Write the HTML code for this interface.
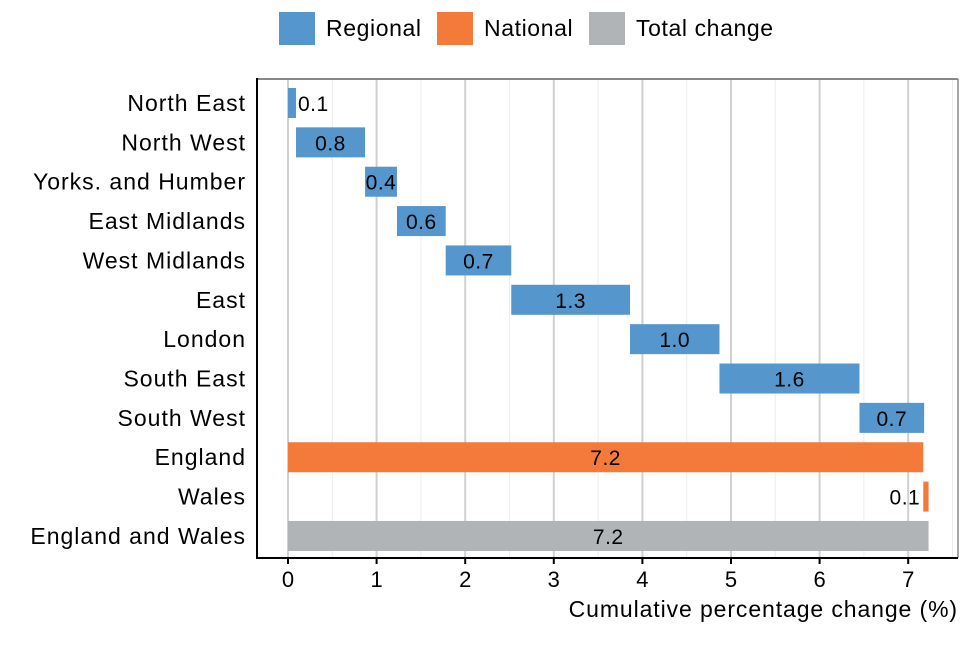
<!DOCTYPE html>
<html><head><meta charset="utf-8"><style>
body{margin:0;background:#fff;font-family:"Liberation Sans",sans-serif}
svg text{font-family:"Liberation Sans",sans-serif}
</style></head><body>
<svg id="c" width="960" height="640" xmlns="http://www.w3.org/2000/svg">
<g font-size="23" letter-spacing="0.6">
<rect x="279" y="12" width="36" height="33" fill="#5596cc"/>
<text x="326" y="36">Regional</text>
<rect x="437" y="12" width="36" height="33" fill="#f47a3a"/>
<text x="484" y="36">National</text>
<rect x="589" y="12" width="36" height="33" fill="#b1b4b7"/>
<text x="636" y="36">Total change</text>
</g>
<g id="grid"></g><g id="bars"></g><g id="axes"></g>
<text x="958" y="617" font-size="23" letter-spacing="0.9" text-anchor="end">Cumulative percentage change (%)</text>
</svg>
<script>
const categories=["North East","North West","Yorks. and Humber","East Midlands","West Midlands","East","London","South East","South West","England","Wales","England and Wales"];
const values=[0.09,0.78,0.36,0.55,0.74,1.34,1.01,1.58,0.73,7.17,0.06,7.23];
const types=["Regional","Regional","Regional","Regional","Regional","Regional","Regional","Regional","Regional","National","National","Total"];
const labels=["0.1","0.8","0.4","0.6","0.7","1.3","1.0","1.6","0.7","7.2","0.1","7.2"];
const xTicks=[0,1,2,3,4,5,6,7];
const NS="http://www.w3.org/2000/svg";
const L=257,R=958,T=79,B=558;
const x=v=>288+v*88.6;
const y=i=>103+i*39.36;
const col={Regional:"#5596cc",National:"#f47a3a",Total:"#b1b4b7"};
function mk(p,tag,a){const e=document.createElementNS(NS,tag);for(const k in a)e.setAttribute(k,a[k]);p.appendChild(e);return e;}
const g=document.getElementById('grid'),bg=document.getElementById('bars'),ax=document.getElementById('axes');
for(let v=0;v<=7.5;v+=0.5){const ln=mk(g,'line',{x1:x(v),x2:x(v),y1:T,y2:B,stroke:Number.isInteger(v)?"#d0d0d0":"#ececec","stroke-width":Number.isInteger(v)?2:1});

}
let cum=0;
categories.forEach((c,i)=>{
 let s,e;
 if(types[i]==="Regional"){s=cum;e=cum+values[i];cum=e;}
 else if(types[i]==="National"&&c==="England"){s=0;e=values[i];cum=e;}
 else if(types[i]==="National"){s=cum;e=cum+values[i];cum=e;}
 else {s=0;e=values[i];}
 const r=mk(bg,'rect',{x:x(s),y:y(i)-15,width:x(e)-x(s),height:30,fill:col[types[i]]});
 
 
 const w=x(e)-x(s);let tx=(x(s)+x(e))/2,anc="middle";
 if(w<25){ if(i===0){tx=x(e)+2;anc="start";} else {tx=x(s)-3;anc="end";} }
 const t=mk(bg,'text',{x:tx,y:y(i)+8,"font-size":21,"letter-spacing":0.5,"text-anchor":anc});t.textContent=labels[i];
 
 
 const cl=mk(ax,'text',{x:246,y:y(i)+8,"font-size":23,"letter-spacing":1,"text-anchor":"end"});cl.textContent=c;
 
 
});
mk(ax,'line',{x1:L,x2:R,y1:T,y2:T,stroke:"#888","stroke-width":2});
mk(ax,'line',{x1:R,x2:R,y1:T,y2:B,stroke:"#888","stroke-width":1.5});
mk(ax,'line',{x1:L,x2:L,y1:T-1,y2:B+1,stroke:"#000","stroke-width":2});
mk(ax,'line',{x1:L,x2:R,y1:B,y2:B,stroke:"#000","stroke-width":2});
xTicks.forEach(v=>{mk(ax,'line',{x1:x(v),x2:x(v),y1:B,y2:B+6,stroke:"#000","stroke-width":2});
 const t=mk(ax,'text',{x:x(v),y:B+29,"font-size":22,"text-anchor":"middle"});t.textContent=v;
 
 });
</script>
</body></html>
